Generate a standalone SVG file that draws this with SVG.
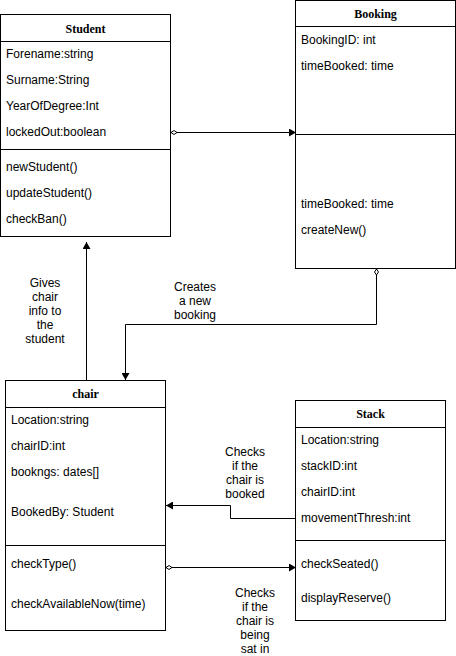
<svg xmlns="http://www.w3.org/2000/svg" width="456" height="656" viewBox="0 0 456 656">
<style>
.box{fill:#fff;stroke:#000;stroke-width:1}
.ln{stroke:#000;stroke-width:1;fill:none}
.t{font-family:"Liberation Sans",Arial,sans-serif;font-size:12px;fill:#000}
.h{font-family:"Liberation Serif","Times New Roman",serif;font-size:12px;font-weight:bold;fill:#000;text-anchor:middle}
.l{font-family:"Liberation Sans",Arial,sans-serif;font-size:12px;fill:#000;text-anchor:middle}
</style>
<defs>
<marker id="arr" markerWidth="8" markerHeight="8" refX="7" refY="4" orient="auto" markerUnits="userSpaceOnUse">
<path d="M0,0 L7,4 L0,8 Z" fill="#000"/>
</marker>
<marker id="dia" markerWidth="10" markerHeight="6" refX="0" refY="3" orient="auto" markerUnits="userSpaceOnUse">
<path d="M0,3 L3,1 L6,3 L3,5 Z" fill="#fff" stroke="#000" stroke-width="1"/>
</marker>
</defs>
<g id="Student">
<rect class="box" x="0.5" y="14.5" width="170" height="222"/>
<line class="ln" x1="0.5" y1="41.5" x2="170.5" y2="41.5"/>
<line class="ln" x1="0.5" y1="149.5" x2="170.5" y2="149.5"/>
<text class="h" x="85.5" y="33">Student</text>
<text class="t" x="6" y="58">Forename:string</text>
<text class="t" x="6" y="84">Surname:String</text>
<text class="t" x="6" y="110">YearOfDegree:Int</text>
<text class="t" x="6" y="136">lockedOut:boolean</text>
<text class="t" x="6" y="171">newStudent()</text>
<text class="t" x="6" y="197">updateStudent()</text>
<text class="t" x="6" y="223">checkBan()</text>
</g>
<g id="Booking">
<rect class="box" x="295.5" y="0.5" width="160" height="268"/>
<line class="ln" x1="295.5" y1="26.5" x2="455.5" y2="26.5"/>
<line class="ln" x1="295.5" y1="134.5" x2="455.5" y2="134.5"/>
<text class="h" x="375.5" y="18">Booking</text>
<text class="t" x="301" y="44">BookingID: int</text>
<text class="t" x="301" y="70">timeBooked: time</text>
<text class="t" x="301" y="208">timeBooked: time</text>
<text class="t" x="301" y="234">createNew()</text>
</g>
<g id="chair">
<rect class="box" x="5.5" y="380.5" width="160" height="250"/>
<line class="ln" x1="5.5" y1="407.5" x2="165.5" y2="407.5"/>
<line class="ln" x1="5.5" y1="545.5" x2="165.5" y2="545.5"/>
<text class="h" x="85.5" y="398">chair</text>
<text class="t" x="11" y="424">Location:string</text>
<text class="t" x="11" y="450">chairID:int</text>
<text class="t" x="11" y="476">bookngs: dates[]</text>
<text class="t" x="11" y="516">BookedBy: Student</text>
<text class="t" x="11" y="568">checkType()</text>
<text class="t" x="11" y="608">checkAvailableNow(time)</text>
</g>
<g id="Stack">
<rect class="box" x="295.5" y="400.5" width="150" height="220"/>
<line class="ln" x1="295.5" y1="427.5" x2="445.5" y2="427.5"/>
<line class="ln" x1="295.5" y1="540.5" x2="445.5" y2="540.5"/>
<text class="h" x="370.5" y="418">Stack</text>
<text class="t" x="301" y="444">Location:string</text>
<text class="t" x="301" y="470">stackID:int</text>
<text class="t" x="301" y="496">chairID:int</text>
<text class="t" x="301" y="522">movementThresh:int</text>
<text class="t" x="301" y="568">checkSeated()</text>
<text class="t" x="301" y="602">displayReserve()</text>
</g>
<g id="connectors">
<path class="ln" d="M171,132.5 L296,132.5" marker-start="url(#dia)" marker-end="url(#arr)"/>
<path class="ln" d="M376.5,269 L376.5,324.5 L125.5,324.5 L125.5,380" marker-start="url(#dia)" marker-end="url(#arr)"/>
<path class="ln" d="M86.5,380 L86.5,242" marker-end="url(#arr)"/>
<path class="ln" d="M296,518.5 L230.5,518.5 L230.5,505.5 L166,505.5" marker-end="url(#arr)"/>
<path class="ln" d="M166,567.5 L296,567.5" marker-start="url(#dia)" marker-end="url(#arr)"/>
<text class="l" x="45" y="287">Gives</text>
<text class="l" x="45" y="301">chair</text>
<text class="l" x="45" y="315">info to</text>
<text class="l" x="45" y="329">the</text>
<text class="l" x="45" y="343">student</text>
<text class="l" x="195" y="291">Creates</text>
<text class="l" x="195" y="305">a new</text>
<text class="l" x="195" y="319">booking</text>
<text class="l" x="245" y="456">Checks</text>
<text class="l" x="245" y="470">if the</text>
<text class="l" x="245" y="484">chair is</text>
<text class="l" x="245" y="498">booked</text>
<text class="l" x="255" y="597">Checks</text>
<text class="l" x="255" y="611">if the</text>
<text class="l" x="255" y="625">chair is</text>
<text class="l" x="255" y="639">being</text>
<text class="l" x="255" y="653">sat in</text>
</g>
</svg>
